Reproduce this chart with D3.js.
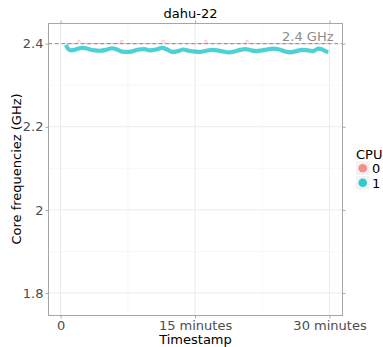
<!DOCTYPE html>
<html><head><meta charset="utf-8">
<script src="https://cdn.jsdelivr.net/npm/d3@7"></script>
<style>body{margin:0;background:#fff}svg{display:block;font-family:"DejaVu Sans",sans-serif}</style>
</head><body><svg id="c" width="383" height="347"></svg>
<script>
const title = "dahu-22";
const cpus = ["0","1"];
const colors = ["#F8766D","#00BFC4"];
// CPU 1 (minutes, GHz)
const cpu1Time = [0.59,0.82,1.15,1.6,1.93,2.38,2.83,3.27,3.83,4.39,5.06,5.73,6.29,6.85,7.52,8.08,8.75,9.31,9.98,10.65,11.32,11.88,12.44,13.11,13.66,14.33,15.0,15.56,16.23,16.9,17.46,18.13,18.8,19.36,20.03,20.59,21.26,21.82,22.49,23.05,23.72,24.39,25.06,25.62,26.29,26.96,27.63,28.19,28.75,29.2,29.65,29.87];
const cpu1Freq = [2.397,2.388,2.384,2.385,2.388,2.390,2.389,2.386,2.384,2.383,2.385,2.389,2.386,2.381,2.380,2.382,2.386,2.387,2.384,2.386,2.390,2.386,2.380,2.382,2.386,2.383,2.381,2.380,2.383,2.385,2.384,2.381,2.379,2.381,2.385,2.387,2.384,2.382,2.384,2.386,2.388,2.386,2.381,2.379,2.382,2.385,2.384,2.382,2.388,2.386,2.381,2.380];
// CPU 0 (minutes, GHz)
const cpu0Time = [0.59,1.9,1.95,2.15,2.2,6.67,6.72,6.92,6.97,11.3,11.35,11.55,11.6,16.05,16.1,16.3,16.35,20.65,20.7,20.9,20.95,29.87];
const cpu0Freq = [2.4,2.4,2.408,2.408,2.4,2.4,2.408,2.408,2.4,2.4,2.408,2.408,2.4,2.4,2.408,2.408,2.4,2.4,2.408,2.408,2.4,2.4];
const refLine = 2.4, refLabel = "2.4 GHz";
const xTicks = [0,15,30], xTickLabels = ["0","15 minutes","30 minutes"], xMinor = [7.5,22.5];
const yTicks = [1.8,2.0,2.2,2.4], yTickLabels = ["1.8","2","2.2","2.4"], yMinor = [1.9,2.1,2.3];

const svg = d3.select("#c");
const L=48.5, R=342.5, T=23.5, B=315.5;
const x = d3.scaleLinear().domain([-1.35,31.45]).range([L,R]);
const y = d3.scaleLinear().domain([1.746,2.4485]).range([B,T]);

svg.append("rect").attr("x",L).attr("y",T).attr("width",R-L).attr("height",B-T).attr("fill","#fff");
const g = svg.append("g");
xMinor.forEach(v=>g.append("line").attr("x1",x(v)).attr("x2",x(v)).attr("y1",T).attr("y2",B).attr("stroke","#f4f4f4").attr("stroke-width",0.6));
yMinor.forEach(v=>g.append("line").attr("y1",y(v)).attr("y2",y(v)).attr("x1",L).attr("x2",R).attr("stroke","#f4f4f4").attr("stroke-width",0.6));
xTicks.forEach(v=>g.append("line").attr("x1",x(v)).attr("x2",x(v)).attr("y1",T).attr("y2",B).attr("stroke","#ebebeb").attr("stroke-width",1));
yTicks.forEach(v=>g.append("line").attr("y1",y(v)).attr("y2",y(v)).attr("x1",L).attr("x2",R).attr("stroke","#ebebeb").attr("stroke-width",1));

const line = d3.line().x(d=>x(d[0])).y(d=>y(d[1])).curve(d3.curveMonotoneX);
const d0 = cpu0Time.map((t,i)=>[t,cpu0Freq[i]]);
const d1 = cpu1Time.map((t,i)=>[t,cpu1Freq[i]]);
svg.append("path").attr("d",d3.line().x(d=>x(d[0])).y(d=>y(d[1]))(d0)).attr("fill","none").attr("stroke",colors[0]).attr("stroke-opacity",0.5).attr("stroke-width",0.8);
svg.append("path").attr("d",line(d1)).attr("fill","none").attr("stroke",colors[1]).attr("stroke-opacity",0.7).attr("stroke-width",4.2).attr("stroke-linejoin","round");

svg.append("line").attr("x1",L).attr("x2",R).attr("y1",y(refLine)).attr("y2",y(refLine)).attr("stroke","#808080").attr("stroke-width",0.9).attr("stroke-dasharray","3.5,3");
svg.append("text").attr("x",333.5).attr("y",y(refLine)-3).attr("text-anchor","end").attr("font-size",13).attr("fill","#8c8c8c").text(refLabel);

svg.append("rect").attr("x",L).attr("y",T).attr("width",R-L).attr("height",B-T).attr("fill","none").attr("stroke","#a6a6a6").attr("stroke-width",1);

// axes
const xa = d3.axisBottom(x).tickValues(xTicks).tickFormat((d,i)=>xTickLabels[i]).tickSize(3).tickPadding(2);
const xt = d3.axisTop(x).tickValues(xTicks).tickFormat("").tickSize(3);
const ya = d3.axisLeft(y).tickValues(yTicks).tickFormat((d,i)=>yTickLabels[i]).tickSize(3).tickPadding(2);
const yr = d3.axisRight(y).tickValues(yTicks).tickFormat("").tickSize(3);
function style(sel){sel.select(".domain").remove();sel.selectAll(".tick line").attr("stroke","#a6a6a6");sel.selectAll("text").attr("fill","#4d4d4d").attr("font-size",13).attr("font-family","DejaVu Sans");}
svg.append("g").attr("transform",`translate(0,${B})`).call(xa).call(style);
svg.append("g").attr("transform",`translate(0,${T})`).call(xt).call(style);
svg.append("g").attr("transform",`translate(${L},0)`).call(ya).call(style);
svg.append("g").attr("transform",`translate(${R},0)`).call(yr).call(style);

svg.append("text").attr("x",190.5).attr("y",18).attr("text-anchor","middle").attr("font-size",13).attr("fill","#000").text(title);
svg.append("text").attr("x",195.5).attr("y",343.5).attr("text-anchor","middle").attr("font-size",13).attr("fill","#000").text("Timestamp");
svg.append("text").attr("transform","translate(21,169) rotate(-90)").attr("text-anchor","middle").attr("font-size",13).attr("fill","#000").text("Core frequenciez (GHz)");

// legend
const lg = svg.append("g");
lg.append("text").attr("x",356).attr("y",159).attr("font-size",13).attr("fill","#000").text("CPU");
cpus.forEach((c,i)=>{
  const yy = 161.5 + i*14.5;
  lg.append("rect").attr("x",356).attr("y",yy).attr("width",13.5).attr("height",13.5).attr("fill","#f2f2f2");
  lg.append("circle").attr("cx",362.75).attr("cy",yy+6.75).attr("r",4.3).attr("fill",colors[i]).attr("opacity",0.8);
  lg.append("text").attr("x",372).attr("y",yy+11.5).attr("font-size",13).attr("fill","#000").text(c);
});
</script></body></html>
